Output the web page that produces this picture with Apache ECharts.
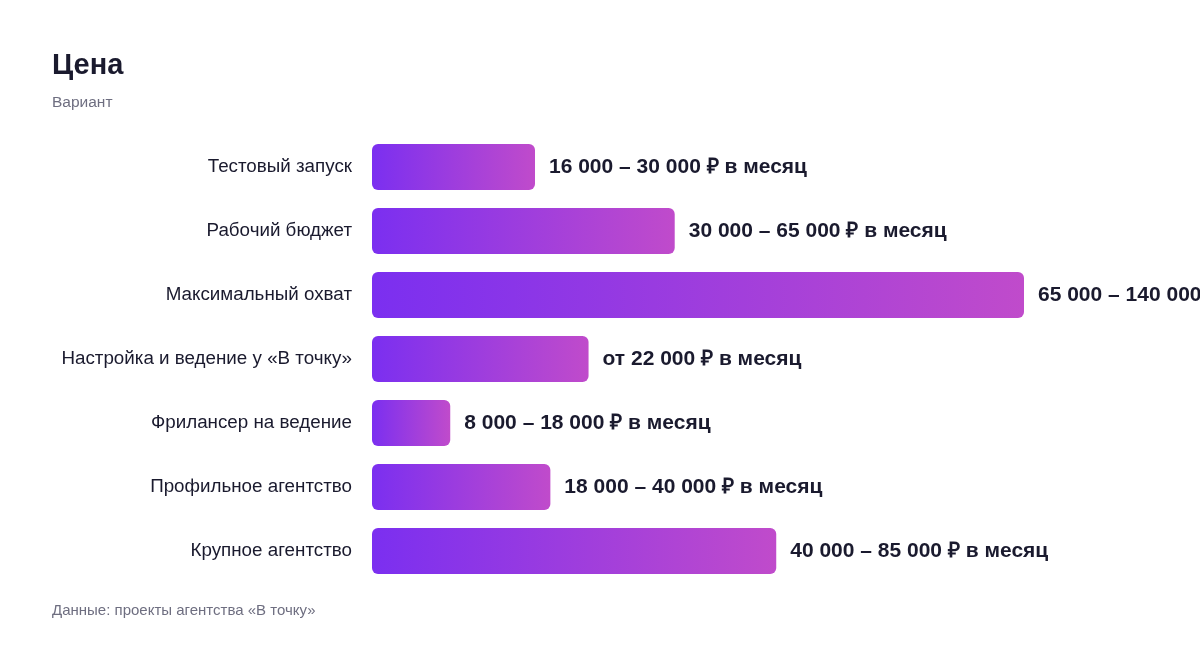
<!DOCTYPE html>
<html><head><meta charset="utf-8">
<script src="https://cdn.jsdelivr.net/npm/echarts@6/dist/echarts.min.js"></script>
<style>html,body{margin:0;padding:0;background:#fff}#c{width:1200px;height:648px}</style>
</head><body><div id="c"></div>
<script>
const categories = ["Тестовый запуск","Рабочий бюджет","Максимальный охват","Настройка и ведение у «В точку»","Фрилансер на ведение","Профильное агентство","Крупное агентство"];
const values = [35, 65, 140, 46.5, 16.8, 38.3, 86.8];
const valueLabels = ["16 000 – 30 000 ₽ в месяц","30 000 – 65 000 ₽ в месяц","65 000 – 140 000 ₽ в месяц","от 22 000 ₽ в месяц","8 000 – 18 000 ₽ в месяц","18 000 – 40 000 ₽ в месяц","40 000 – 85 000 ₽ в месяц"];
const FONT = "'Liberation Sans', Arial, Helvetica, sans-serif";
const chart = echarts.init(document.getElementById('c'), null, {renderer:'canvas'});
chart.setOption({
  backgroundColor:'#fff',
  animation:false,
  title:[
    {text:'Цена', left:52, top:51, padding:0, textStyle:{fontFamily:FONT, fontSize:29, fontWeight:'bold', color:'#1a1a2e'}},
    {text:'Вариант', left:52, top:95, padding:0, textStyle:{fontFamily:FONT, fontSize:15.5, fontWeight:'normal', color:'#6e6e80'}},
    {text:'Данные: проекты агентства «В точку»', left:52, top:603, padding:0, textStyle:{fontFamily:FONT, fontSize:15, fontWeight:'normal', color:'#6e6e80'}}
  ],
  grid:{left:372, right:176, top:135, height:448, containLabel:false},
  xAxis:{type:'value', min:0, max:140, show:false},
  yAxis:{type:'category', data:categories, inverse:true,
    axisLine:{show:false}, axisTick:{show:false}, splitLine:{show:false},
    axisLabel:{fontFamily:FONT, fontSize:18.8, color:'#1a1a2e', margin:20, padding:[3,0,0,0]}},
  series:[{
    type:'bar', data:values, barWidth:46,
    itemStyle:{borderRadius:6, color:new echarts.graphic.LinearGradient(0,0,1,0,[{offset:0,color:'#7b2ff0'},{offset:1,color:'#c04bcb'}])},
    label:{show:true, position:'right', distance:14, padding:[3,0,0,0], fontFamily:FONT, fontSize:21, fontWeight:'bold', color:'#1a1a2e',
      formatter:p=>valueLabels[p.dataIndex]}
  }]
});
</script></body></html>
